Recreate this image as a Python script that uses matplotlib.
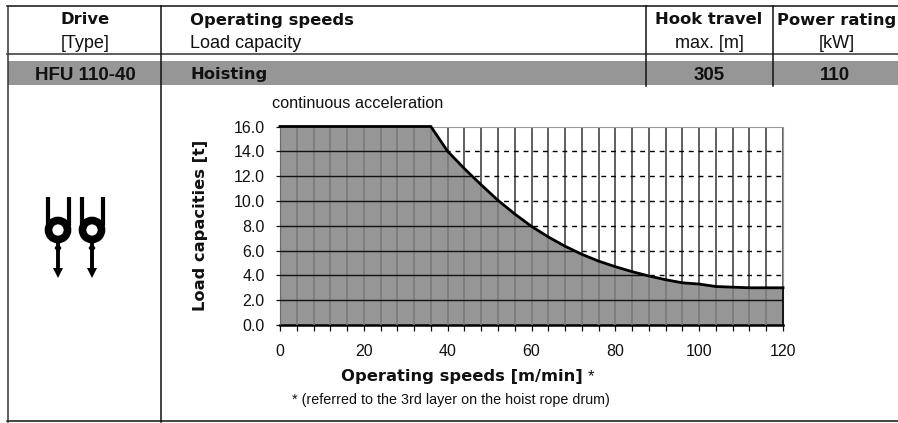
from matplotlib import pyplot as plt
from matplotlib.patches import Circle, Polygon, Rectangle
from matplotlib.ticker import FixedLocator, FormatStrFormatter

plt.rcParams['font.family'] = ['Liberation Sans', 'DejaVu Sans']

speeds = [0, 36, 40, 44, 48, 52, 56, 60, 64, 68, 72, 76, 80, 84, 88, 92, 96, 100, 104, 108, 112, 116, 120]
loads = [16.0, 16.0, 14.0, 12.6, 11.3, 10.05, 8.95, 7.95, 7.1, 6.35, 5.7, 5.15, 4.7, 4.3, 3.95, 3.65, 3.4, 3.3, 3.1, 3.05, 3.0, 3.0, 3.0]
y_ticks = [0, 2, 4, 6, 8, 10, 12, 14, 16]
x_ticks = [0, 20, 40, 60, 80, 100, 120]
x_minor = list(range(0, 121, 4))

W, H = 898, 423
fig = plt.figure(figsize=(W / 100, H / 100), dpi=100)

# page layer in pixels, y pointing down
page = fig.add_axes([0, 0, 1, 1])
page.set_xlim(0, W)
page.set_ylim(H, 0)
page.axis('off')

GREY = '#969696'
page.add_patch(Rectangle((8, 61), 890, 24, color=GREY, lw=0))
page.plot([7, 898], [6.5, 6.5], color='#111111', lw=1.1)
page.plot([7, 898], [54.5, 54.5], color='#333333', lw=1.1)
page.plot([7, 898], [421.5, 421.5], color='#111111', lw=1.1)
page.plot([7.5, 7.5], [6, 422], color='#333333', lw=1.1)
page.plot([160.5, 160.5], [6, 422], color='#111111', lw=1.1)
page.plot([645.5, 645.5], [6, 86], color='#111111', lw=1.1)
page.plot([772.5, 772.5], [6, 86], color='#111111', lw=1.1)


def label(x, y, s, ha='center', bold=False, size=13, **kw):
    page.text(x, y, s, ha=ha, va='center', fontsize=size,
              fontweight='bold' if bold else 'normal', color='#111111', **kw)


BOLD = ['DejaVu Sans']
label(85, 20, 'Drive', bold=True, size=11.8, family=BOLD)
label(85, 44, '[Type]')
label(190, 20, 'Operating speeds', ha='left', bold=True, size=11.8, family=BOLD)
label(190, 44, 'Load capacity', ha='left')
label(709, 20, 'Hook travel', bold=True, size=11.8, family=BOLD)
label(709, 44, 'max. [m]')
label(837, 20, 'Power rating', bold=True, size=11.8, family=BOLD)
label(837, 44, '[kW]')
label(85, 75, 'HFU 110-40', bold=True, size=13.5)
label(190, 75, 'Hoisting', ha='left', bold=True, size=11.8, family=BOLD)
label(709, 75, '305', bold=True, size=13.5)
label(835, 75, '110', bold=True, size=13.5)
label(272, 104, 'continuous acceleration', ha='left', size=11.7)
label(462, 377, 'Operating speeds [m/min]', bold=True, size=11.8, family=BOLD)
label(591, 377, '*', size=11.7)
label(451, 400, '* (referred to the 3rd layer on the hoist rope drum)', size=10.3)
label(200, 225, 'Load capacities [t]', bold=True, size=11.7, family=BOLD, rotation=90)

# hook symbols
for cx in (58, 92):
    page.plot([cx - 10, cx - 10], [197, 226], color='black', lw=3.0, solid_capstyle='butt')
    page.plot([cx + 11, cx + 11], [197, 226], color='black', lw=3.0, solid_capstyle='butt')
    page.add_patch(Circle((cx, 230), 9.5, fc='white', ec='black', lw=5.5))
    page.plot([cx, cx], [243, 272], color='black', lw=2.8, solid_capstyle='butt')
    page.add_patch(Polygon([[cx, 243], [cx + 3.5, 248], [cx, 253], [cx - 3.5, 248]], color='black', lw=0))
    page.add_patch(Polygon([[cx - 5, 268], [cx + 5, 268], [cx, 278]], color='black', lw=0))

ax = fig.add_axes([280 / W, (H - 325) / H, 503 / W, 198.5 / H])
ax.set_xlim(0, 120)
ax.set_ylim(0, 16)
ax.patch.set_alpha(0)

for x in x_minor:
    ax.axvline(x, color='#444444', lw=1.2, zorder=1)
for y in y_ticks[1:-1]:
    ax.axhline(y, color='black', lw=1.0, dashes=(3.5, 3.5), zorder=1)

fill = ax.fill_between(speeds, loads, 0, color=GREY, lw=0, zorder=2)
clip = fill.get_paths()[0]
for x in x_minor:
    v = ax.axvline(x, color='#7a7a7a', lw=1.2, zorder=3)
    v.set_clip_path(clip, ax.transData)
for y in y_ticks[1:-1]:
    h = ax.axhline(y, color='#111111', lw=1.0, zorder=3)
    h.set_clip_path(clip, ax.transData)

ax.plot(speeds, loads, color='black', lw=2.0, zorder=4, clip_on=False)
ax.plot([120, 120], [0, 3.0], color='black', lw=1.2, zorder=4, clip_on=False)

ax.spines['left'].set_color('#222222')
ax.spines['top'].set_color('#999999')
ax.spines['right'].set_color('#999999')
ax.spines['bottom'].set_color('black')
ax.spines['bottom'].set_linewidth(1.8)

ax.xaxis.set_major_locator(FixedLocator(x_ticks))
ax.xaxis.set_minor_locator(FixedLocator(x_minor))
ax.set_yticks(y_ticks)
ax.yaxis.set_major_formatter(FormatStrFormatter('%.1f'))
ax.tick_params(axis='x', which='both', length=4, width=0.9, color='#111111', pad=10, labelsize=11.5, labelcolor='#111111')
ax.tick_params(axis='y', length=3, width=0.9, color='#111111', pad=8, labelsize=11.5, labelcolor='#111111')

fig.savefig('out.png', dpi=100)
